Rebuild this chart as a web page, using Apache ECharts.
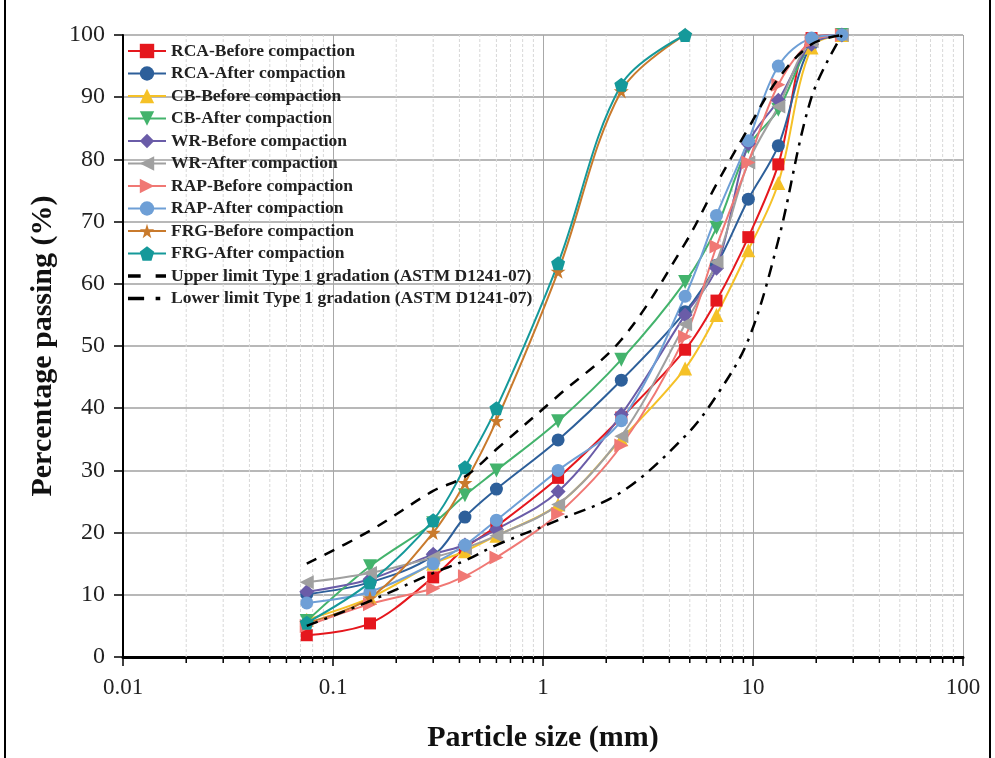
<!DOCTYPE html>
<html>
<head>
<meta charset="utf-8">
<script src="https://cdn.jsdelivr.net/npm/echarts@6/dist/echarts.min.js"></script>
<style>
  html, body { margin: 0; padding: 0; background: #fff; }
  #main { width: 995px; height: 758px; }
</style>
</head>
<body>
<div id="main"></div>
<script>
// sieve sizes (mm)
var sieves = [0.075, 0.15, 0.3, 0.425, 0.6, 1.18, 2.36, 4.75, 6.7, 9.5, 13.2, 19, 26.5];

// percentage passing
var rcaBefore = [3.5, 5.4, 12.8, 17.5, 21, 28.8, 38.5, 49.4, 57.3, 67.5, 79.2, 99.5, 100];
var rcaAfter  = [10.1, 12, 16.3, 22.5, 27, 34.9, 44.5, 55.5, 63, 73.6, 82.2, 98.5, 100];
var cbBefore  = [6, 9.5, 15, 17, 19.5, 24.5, 35, 46.4, 55, 65.4, 76.2, 98, 100];
var cbAfter   = [5.8, 14.6, 21.5, 26, 30, 37.9, 47.8, 60.3, 69, 82, 88, 98.5, 100];
var wrBefore  = [10.5, 12.5, 16.5, 18, 20.5, 26.6, 39, 55, 62.5, 82.5, 89.5, 98.5, 100];
var wrAfter   = [12, 13.5, 16, 17.5, 19.5, 24.5, 35.5, 53.5, 63.5, 79.5, 88.5, 99, 100];
var rapBefore = [5, 8.5, 11, 13, 16, 23, 34, 51.5, 66, 79.5, 92, 99, 100];
var rapAfter  = [8.7, 10.5, 15, 18, 22, 30, 38, 58, 71, 83, 95, 99.5, 100];
var frgBefore = [5.5, 9.5, 20, 28, 38, 62, 91, 100];
var frgAfter  = [5.5, 12, 22, 30.5, 40, 63.3, 92, 100];
var upperLimit = [15, 20.3, 26.7, 29, 33.4, 42, 51, 66.5, 76, 85, 93, 98.5, 100];
var lowerLimit = [5, 9, 13.5, 15.5, 18, 22, 26.5, 35.5, 42, 51, 67, 90, 100];

var xTickLabels = ['0.01', '0.1', '1', '10', '100'];
var decades = [0.01, 0.1, 1, 10];
var minorSteps = [2, 3, 4, 5, 6, 7, 8, 9];

var starPath = 'path://M50,0 L61,35 L98,35 L68,57 L79,91 L50,70 L21,91 L32,57 L2,35 L39,35 Z';
var pentPath = 'path://M50,2 L98,37 L80,95 L20,95 L2,37 Z';
// legend icons for the two limit curves
var dashIcon = 'path://M0,0 H11 V3 H0 Z M24,0 H33 V3 H24 Z';
var dashDotIcon = 'path://M0,0 H14 V3 H0 Z M24,0 H28 V3 H24 Z M32,0 H33 V0.01 H32 Z';

var serif = '"Liberation Serif", "DejaVu Serif", serif';

function pairs(ys) {
	var out = [];
	for (var i = 0; i < ys.length; i++) out.push([sieves[i], ys[i]]);
	return out;
}

var minorVals = [];
decades.forEach(function(d) {
	minorSteps.forEach(function(m) { minorVals.push([+(d * m).toPrecision(3), 0]); });
});

function mkSeries(name, ys, color, symbol, rotate, size) {
	return {
		name: name,
		type: 'line',
		data: pairs(ys),
		smooth: 0.35,
		symbol: symbol,
		symbolRotate: rotate || 0,
		symbolSize: size || 13,
		lineStyle: { color: color, width: 2 },
		itemStyle: { color: color },
		z: 3
	};
}

var myChart = echarts.init(document.getElementById('main'));

var series = [
	{
		name: 'minor',
		type: 'custom',
		data: minorVals,
		clip: false,
		silent: true,
		z: 1,
		renderItem: function(params, api) {
			var b = api.coord([api.value(0), 0]);
			var t = api.coord([api.value(0), 100]);
			return {
				type: 'group',
				children: [
					{ type: 'line', shape: { x1: b[0], y1: b[1], x2: t[0], y2: t[1] },
						style: { stroke: '#d8d8d8', lineWidth: 1, lineDash: [3, 2] } },
					{ type: 'line', shape: { x1: b[0], y1: b[1], x2: b[0], y2: b[1] + 6 },
						style: { stroke: '#000', lineWidth: 1.5 } }
				]
			};
		}
	},
	mkSeries('RCA-Before compaction', rcaBefore, '#e5171d', 'rect', 0, 12),
	mkSeries('RCA-After compaction', rcaAfter, '#2d5f9a', 'circle', 0, 13),
	mkSeries('CB-Before compaction', cbBefore, '#f5c127', 'triangle', 0, 14),
	mkSeries('CB-After compaction', cbAfter, '#43b36c', 'triangle', 180, 14),
	mkSeries('WR-Before compaction', wrBefore, '#6a5ca8', 'diamond', 0, 15),
	mkSeries('WR-After compaction', wrAfter, '#a0a0a0', 'triangle', 90, 14),
	mkSeries('RAP-Before compaction', rapBefore, '#f07874', 'triangle', -90, 14),
	mkSeries('RAP-After compaction', rapAfter, '#6e9fd6', 'circle', 0, 13),
	mkSeries('FRG-Before compaction', frgBefore, '#c97a2c', starPath, 0, 15),
	mkSeries('FRG-After compaction', frgAfter, '#15999a', pentPath, 0, 14),
	{
		name: 'Upper limit Type 1 gradation (ASTM D1241-07)',
		type: 'line',
		data: pairs(upperLimit),
		smooth: 0.35,
		showSymbol: false,
		symbol: 'none',
		lineStyle: { color: '#000', width: 2.5, type: [11, 9] },
		itemStyle: { color: '#000' },
		z: 4
	},
	{
		name: 'Lower limit Type 1 gradation (ASTM D1241-07)',
		type: 'line',
		data: pairs(lowerLimit),
		smooth: 0.35,
		showSymbol: false,
		symbol: 'none',
		lineStyle: { color: '#000', width: 2.5, type: [12, 7, 3, 7] },
		itemStyle: { color: '#000' },
		z: 4
	}
];

var legendData = series.slice(1).map(function(s) {
	if (s.name.indexOf('Upper') === 0) return { name: s.name, icon: dashIcon, itemStyle: { color: '#000' } };
	if (s.name.indexOf('Lower') === 0) return { name: s.name, icon: dashDotIcon, itemStyle: { color: '#000' } };
	return { name: s.name };
});

myChart.setOption({
	backgroundColor: '#fff',
	animation: false,
	graphic: [
		{ type: 'line', shape: { x1: 5, y1: 0, x2: 5, y2: 758 }, style: { stroke: '#000', lineWidth: 2 } },
		{ type: 'line', shape: { x1: 990, y1: 0, x2: 990, y2: 758 }, style: { stroke: '#000', lineWidth: 2 } }
	],
	grid: { left: 123, right: 32, top: 35, bottom: 98 },
	legend: {
		data: legendData,
		orient: 'vertical',
		left: 122,
		top: 37,
		itemGap: 4.5,
		itemWidth: 38,
		itemHeight: 18,
		textStyle: { fontFamily: serif, fontWeight: 'bold', fontSize: 17.5, color: '#222' }
	},
	xAxis: [
		{
			type: 'log',
			logBase: 10,
			min: 0.01,
			max: 100,
			name: 'Particle size (mm)',
			nameLocation: 'middle',
			nameGap: 66,
			nameTextStyle: { fontFamily: serif, fontWeight: 'bold', fontSize: 30, color: '#111' },
			axisLine: { show: true, onZero: false, lineStyle: { color: '#000', width: 2 } },
			axisTick: { show: true, inside: false, length: 9, lineStyle: { color: '#000', width: 1.5 } },
			axisLabel: {
				margin: 19,
				fontFamily: serif, fontSize: 23, color: '#222',
				formatter: function(v) {
					var i = Math.round(Math.log10(v)) + 2;
					return xTickLabels[i] !== undefined ? xTickLabels[i] : '';
				}
			},
			splitLine: { show: true, lineStyle: { color: '#a8a8a8', width: 1 } }
		},
		{
			type: 'log',
			position: 'top',
			min: 0.01,
			max: 100,
			axisLine: { show: true, lineStyle: { color: '#000', width: 3 } },
			axisTick: { show: false },
			axisLabel: { show: false },
			splitLine: { show: false }
		}
	],
	yAxis: {
		type: 'value',
		min: 0,
		max: 100,
		interval: 10,
		name: 'Percentage passing (%)',
		nameLocation: 'middle',
		nameGap: 64,
		nameTextStyle: { fontFamily: serif, fontWeight: 'bold', fontSize: 30, color: '#111' },
		axisLine: { show: true, lineStyle: { color: '#000', width: 2 } },
		axisTick: { show: true, length: 9, lineStyle: { color: '#000', width: 1.5 } },
		axisLabel: { margin: 18, fontFamily: serif, fontSize: 24, color: '#222' },
		splitLine: { show: true, lineStyle: { color: '#a0a0a0', width: 1.5 } }
	},
	series: series
});
</script>
</body>
</html>
